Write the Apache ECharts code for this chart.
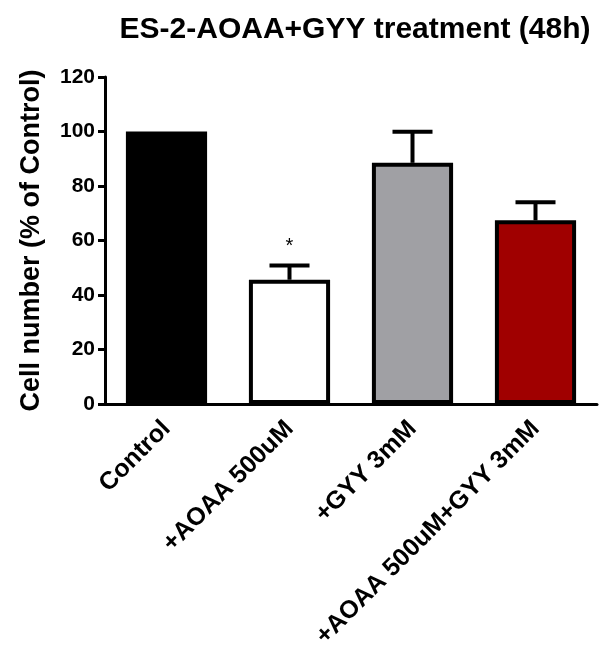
<!DOCTYPE html>
<html>
<head>
<meta charset="utf-8">
<script src="https://cdn.jsdelivr.net/npm/echarts@6/dist/echarts.min.js"></script>
<style>html,body{margin:0;padding:0;background:#fff}#c{width:608px;height:656px}</style>
</head>
<body>
<div id="c"></div>
<script>
var categories = ['Control', '+AOAA 500uM', '+GYY 3mM', '+AOAA 500uM+GYY 3mM'];
var means = [100, 45.6, 88.5, 67.4];
var errors = [0, 5.2, 11.4, 6.6];
var barColors = ['#000000', '#ffffff', '#a0a0a4', '#a00000'];
var significance = ['', '*', '', ''];
var yTicks = { min: 0, max: 120, interval: 20 };

var FONT = "'Liberation Sans', Arial, sans-serif";
var chart = echarts.init(document.getElementById('c'));

var errData = categories.map(function (c, i) { return [i, means[i], errors[i], significance[i]]; });

chart.setOption({
  animation: false,
  title: {
    text: 'ES-2-AOAA+GYY treatment (48h)',
    left: 350, top: 10, textAlign: 'center',
    textStyle: { fontFamily: FONT, fontWeight: 'bold', fontSize: 30, color: '#000' }
  },
  grid: { left: 105, right: 11, top: 77, bottom: 252 },
  xAxis: {
    type: 'category',
    data: categories,
    boundaryGap: true,
    axisLine: { lineStyle: { color: '#000', width: 3 } },
    axisTick: { alignWithLabel: true, length: 8, lineStyle: { color: '#000', width: 3 } },
    axisLabel: { interval: 0, rotate: 45, margin: 21, color: '#000', fontFamily: FONT, fontWeight: 'bold', fontSize: 25 }
  },
  yAxis: {
    type: 'value',
    min: yTicks.min, max: yTicks.max, interval: yTicks.interval,
    name: 'Cell number (% of Control)',
    nameLocation: 'middle',
    nameGap: 60,
    nameTextStyle: { fontFamily: FONT, fontWeight: 'bold', fontSize: 27, color: '#000' },
    axisLine: { show: true, lineStyle: { color: '#000', width: 3 } },
    axisTick: { show: true, length: 7, lineStyle: { color: '#000', width: 3 } },
    axisLabel: { margin: 10, color: '#000', fontFamily: FONT, fontWeight: 'bold', fontSize: 21 },
    splitLine: { show: false }
  },
  series: [
    {
      type: 'bar',
      barWidth: '66%',
      data: means.map(function (v, i) {
        return { value: v, itemStyle: { color: barColors[i], borderColor: '#000', borderWidth: 4 } };
      }),
      z: 2
    },
    {
      type: 'custom',
      data: errData,
      z: 1,
      renderItem: function (params, api) {
        var i = api.value(0), m = api.value(1), e = errData[params.dataIndex][2];
        var sig = errData[params.dataIndex][3];
        var top = api.coord([i, m + e]);
        var base = api.coord([i, m]);
        var children = [];
        if (e > 0) {
          children.push({ type: 'line', shape: { x1: top[0], y1: base[1], x2: top[0], y2: top[1] }, style: { stroke: '#000', lineWidth: 4 } });
          children.push({ type: 'line', shape: { x1: top[0] - 20, y1: top[1], x2: top[0] + 20, y2: top[1] }, style: { stroke: '#000', lineWidth: 4 } });
        }
        if (sig) {
          children.push({ type: 'text', style: { text: sig, x: top[0], y: top[1] - 9, textAlign: 'center', textVerticalAlign: 'bottom', fontFamily: FONT, fontSize: 20, fill: '#000' } });
        }
        return { type: 'group', children: children };
      }
    }
  ]
});
</script>
</body>
</html>
